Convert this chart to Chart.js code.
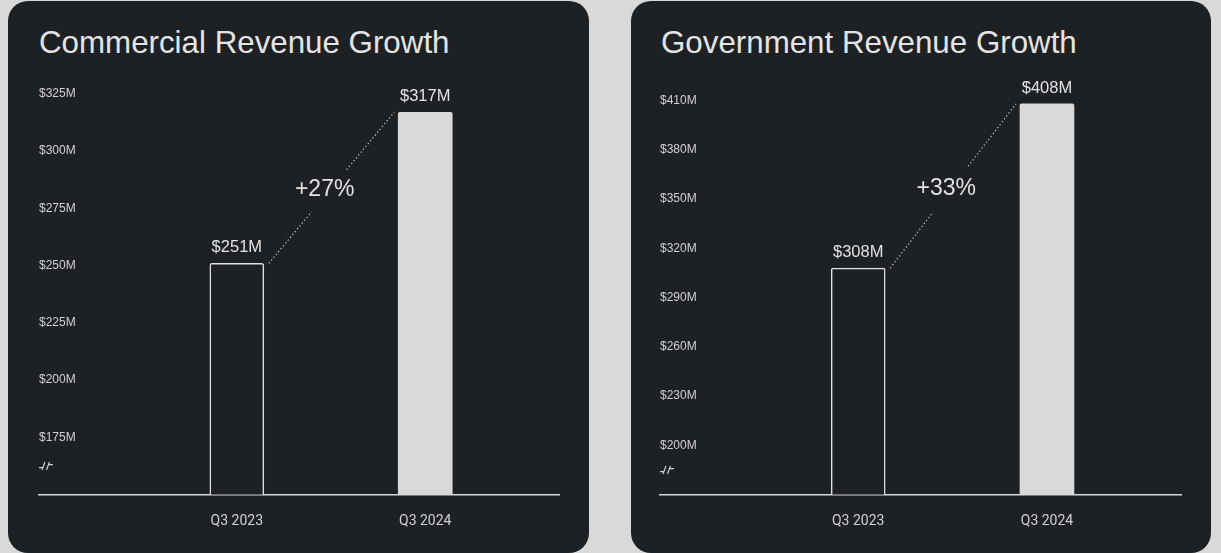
<!DOCTYPE html>
<html>
<head>
<meta charset="utf-8">
<script src="https://cdn.jsdelivr.net/npm/chart.js@4.4.1/dist/chart.umd.min.js"></script>
<style>
  html, body { margin: 0; padding: 0; }
  body {
    width: 1221px; height: 553px; background: #d9d9d9;
    position: relative; overflow: hidden;
    font-family: "Liberation Sans", Arial, sans-serif;
  }
  .panel {
    position: absolute; top: 1px; height: 552px;
    background: #1e2124; border-radius: 20px; overflow: hidden;
  }
  .panel h2 {
    position: absolute; margin: 0; top: 26px;
    font-weight: normal; font-size: 31.3px; line-height: 1;
    color: #e4e4e4; white-space: nowrap;
  }
  .panel canvas { position: absolute; left: 0; top: 0; }
</style>
</head>
<body>
<div class="panel" style="left:8px;width:581px;">
  <h2 style="left:31px;">Commercial Revenue Growth</h2>
  <canvas id="commercialChart" width="581" height="552"></canvas>
</div>
<div class="panel" style="left:631px;width:580px;">
  <h2 style="left:30px;">Government Revenue Growth</h2>
  <canvas id="governmentChart" width="580" height="552"></canvas>
</div>
<script>
// data
const categories = ["Q3 2023", "Q3 2024"];
const commercialValues = [251, 317];
const governmentValues = [308, 408];
const commercialTicks = [175, 200, 225, 250, 275, 300, 325];
const governmentTicks = [200, 230, 260, 290, 320, 350, 380, 410];
const commercialGrowth = "+27%";
const governmentGrowth = "+33%";

const textColor = "#e2e2e2";
const tickColor = "#cfd0d1";

// value labels, dotted connector, growth label and axis break mark
const barNotes = {
  id: "barNotes",
  afterDatasetsDraw(chart, args, opts) {
    const ctx = chart.ctx;
    const bars = chart.getDatasetMeta(0).data.map((b) => b.getProps(["x", "y", "width"], true));
    const values = chart.data.datasets[0].data.map((d) => d.y);

    ctx.save();
    ctx.fillStyle = textColor;
    ctx.font = '16.5px "Liberation Sans", Arial, sans-serif';
    ctx.textAlign = "center";
    ctx.textBaseline = "alphabetic";
    bars.forEach((b, i) => ctx.fillText("$" + values[i] + "M", b.x, b.y - 11));

    // connector from first bar's top-right to second bar's top-left
    const a = { x: bars[0].x + bars[0].width / 2 + 5, y: bars[0].y };
    const c = { x: bars[1].x - bars[1].width / 2 - 4, y: bars[1].y };
    const at = (t) => ({ x: a.x + (c.x - a.x) * t, y: a.y + (c.y - a.y) * t });
    ctx.strokeStyle = "#c4c4c4";
    ctx.lineWidth = 1.2;
    ctx.setLineDash([1.3, 2.4]);
    [[0, 0.34], [0.62, 1]].forEach(([t0, t1]) => {
      const p0 = at(t0), p1 = at(t1);
      ctx.beginPath();
      ctx.moveTo(p0.x, p0.y);
      ctx.lineTo(p1.x, p1.y);
      ctx.stroke();
    });
    ctx.setLineDash([]);

    const m = at(0.485);
    ctx.font = '23px "Liberation Sans", Arial, sans-serif';
    ctx.textBaseline = "middle";
    ctx.fillText(opts.growth, m.x - 5, m.y);

    // break mark on the y axis
    const yb = chart.scales.y.getPixelForValue(opts.breakValue);
    const x0 = chart.chartArea.left;
    ctx.strokeStyle = tickColor;
    ctx.lineWidth = 1.2;
    ctx.beginPath();
    ctx.moveTo(x0, yb + 1.5); ctx.lineTo(x0 + 4, yb + 1.5);
    ctx.moveTo(x0 + 3, yb + 4); ctx.lineTo(x0 + 6, yb - 4);
    ctx.moveTo(x0 + 7.5, yb + 4); ctx.lineTo(x0 + 10.5, yb - 4);
    ctx.moveTo(x0 + 10, yb - 1.5); ctx.lineTo(x0 + 14, yb - 1.5);
    ctx.stroke();
    ctx.restore();
  },
};

function makeChart(id, values, ticks, yMin, yMax, growth, padLeft, padRight) {
  return new Chart(document.getElementById(id), {
    type: "bar",
    data: {
      datasets: [
        {
          data: values.map((v, i) => ({ x: i, y: v })),
          backgroundColor: ["#1e2124", "#d9d9d9"],
          borderColor: ["#e0e0e0", "#d9d9d9"],
          borderWidth: [1.5, 0],
          borderRadius: 2,
          borderSkipped: "start",
          base: yMin,
          barThickness: 54,
        },
      ],
    },
    options: {
      responsive: false,
      animation: false,
      layout: { padding: { top: 70, left: padLeft, right: padRight, bottom: 5.5 } },
      plugins: {
        legend: { display: false },
        tooltip: { enabled: false },
        barNotes: { growth: growth, breakValue: (yMin + ticks[0]) / 2 },
      },
      scales: {
        x: {
          type: "linear",
          offset: false,
          min: -1.05,
          max: 1.71,
          grid: { display: false, drawTicks: false },
          border: { display: true, color: "#d6d6d6", width: 1.5 },
          afterBuildTicks: (scale) => {
            scale.ticks = categories.map((c, i) => ({ value: i }));
          },
          ticks: {
            padding: 18,
            color: tickColor,
            font: { family: "Roboto", size: 14 },
            callback: (v) => categories[v],
          },
        },
        y: {
          min: yMin,
          max: yMax,
          grid: { display: false, drawTicks: false },
          border: { display: false },
          afterBuildTicks: (scale) => {
            scale.ticks = ticks.map((v) => ({ value: v }));
          },
          ticks: {
            mirror: true,
            padding: 0,
            color: tickColor,
            font: { family: "Liberation Sans", size: 12 },
            callback: (v) => "$" + v + "M",
          },
        },
      },
    },
    plugins: [barNotes],
  });
}

makeChart("commercialChart", commercialValues, commercialTicks, 150, 335, commercialGrowth, 31, 30);
makeChart("governmentChart", governmentValues, governmentTicks, 170, 428, governmentGrowth, 29, 30);
</script>
</body>
</html>
